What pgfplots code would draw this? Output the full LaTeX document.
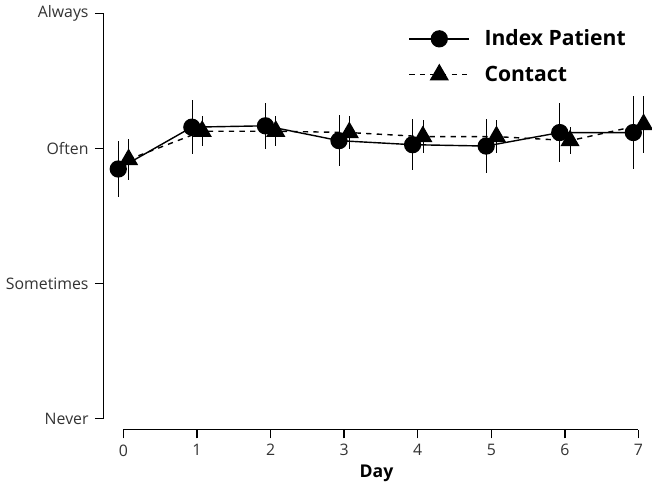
\documentclass[border=0pt]{standalone}
\usepackage{pgfplots}
\pgfplotsset{compat=1.18}
\usepackage{fontspec}
\setmainfont{Open Sans}
\begin{document}
\begin{tikzpicture}
\begin{axis}[
  scale only axis, width=10.9cm, height=8.3cm,
  xmin=-0.27, xmax=7.15, ymin=-0.08, ymax=3,
  axis line style={draw=none},
  xtick pos=bottom, ytick pos=left,
  tick align=outside, tick style={black, thick}, major tick length=5pt,
  xtick={0,...,7}, ytick={0,1,2,3},
  yticklabels={Never,Sometimes,Often,Always},
  /pgf/number format/assume math mode=true,
  ticklabel style={font=\small, text=black!80},
  xlabel={\textbf{Day}}, xlabel style={yshift=2pt},
  clip=false,
  legend style={draw=none, at={(0.97,0.98)}, anchor=north east, font=\bfseries\large, row sep=6pt, inner xsep=2pt},
  legend image code/.code={\draw[#1] (0cm,0cm) -- (1.2cm,0cm); \draw[#1, mark repeat=1] plot coordinates {(0.6cm,0cm)};},
  legend cell align=left,
]
\draw[thick] (axis cs:-0.27,0) -- (axis cs:-0.27,3);
\draw[thick] (axis cs:0,-0.08) -- (axis cs:7,-0.08);
\addplot[black, thick, mark=*, mark size=4.5pt, error bars/.cd, y dir=both, y explicit, error bar style={thin}, error mark=none]
 coordinates {
 (-0.07,1.85) +- (0,0.21)
 (0.93,2.16) +- (0,0.2)
 (1.93,2.17) +- (0,0.17)
 (2.93,2.06) +- (0,0.19)
 (3.93,2.03) +- (0,0.19)
 (4.93,2.02) +- (0,0.2)
 (5.93,2.12) +- (0,0.22)
 (6.93,2.12) +- (0,0.27)
 };
\addlegendentry{\ \ Index Patient}
\addplot[black, thick, dashed, mark=triangle*, mark options={solid}, mark size=5.5pt, error bars/.cd, y dir=both, y explicit, error bar style={thin, solid}, error mark=none]
 coordinates {
 (0.07,1.92) +- (0,0.15)
 (1.07,2.13) +- (0,0.11)
 (2.07,2.13) +- (0,0.11)
 (3.07,2.12) +- (0,0.12)
 (4.07,2.09) +- (0,0.12)
 (5.07,2.09) +- (0,0.12)
 (6.07,2.06) +- (0,0.1)
 (7.07,2.18) +- (0,0.21)
 };
\addlegendentry{\ \ Contact}
\end{axis}
\end{tikzpicture}
\end{document}
